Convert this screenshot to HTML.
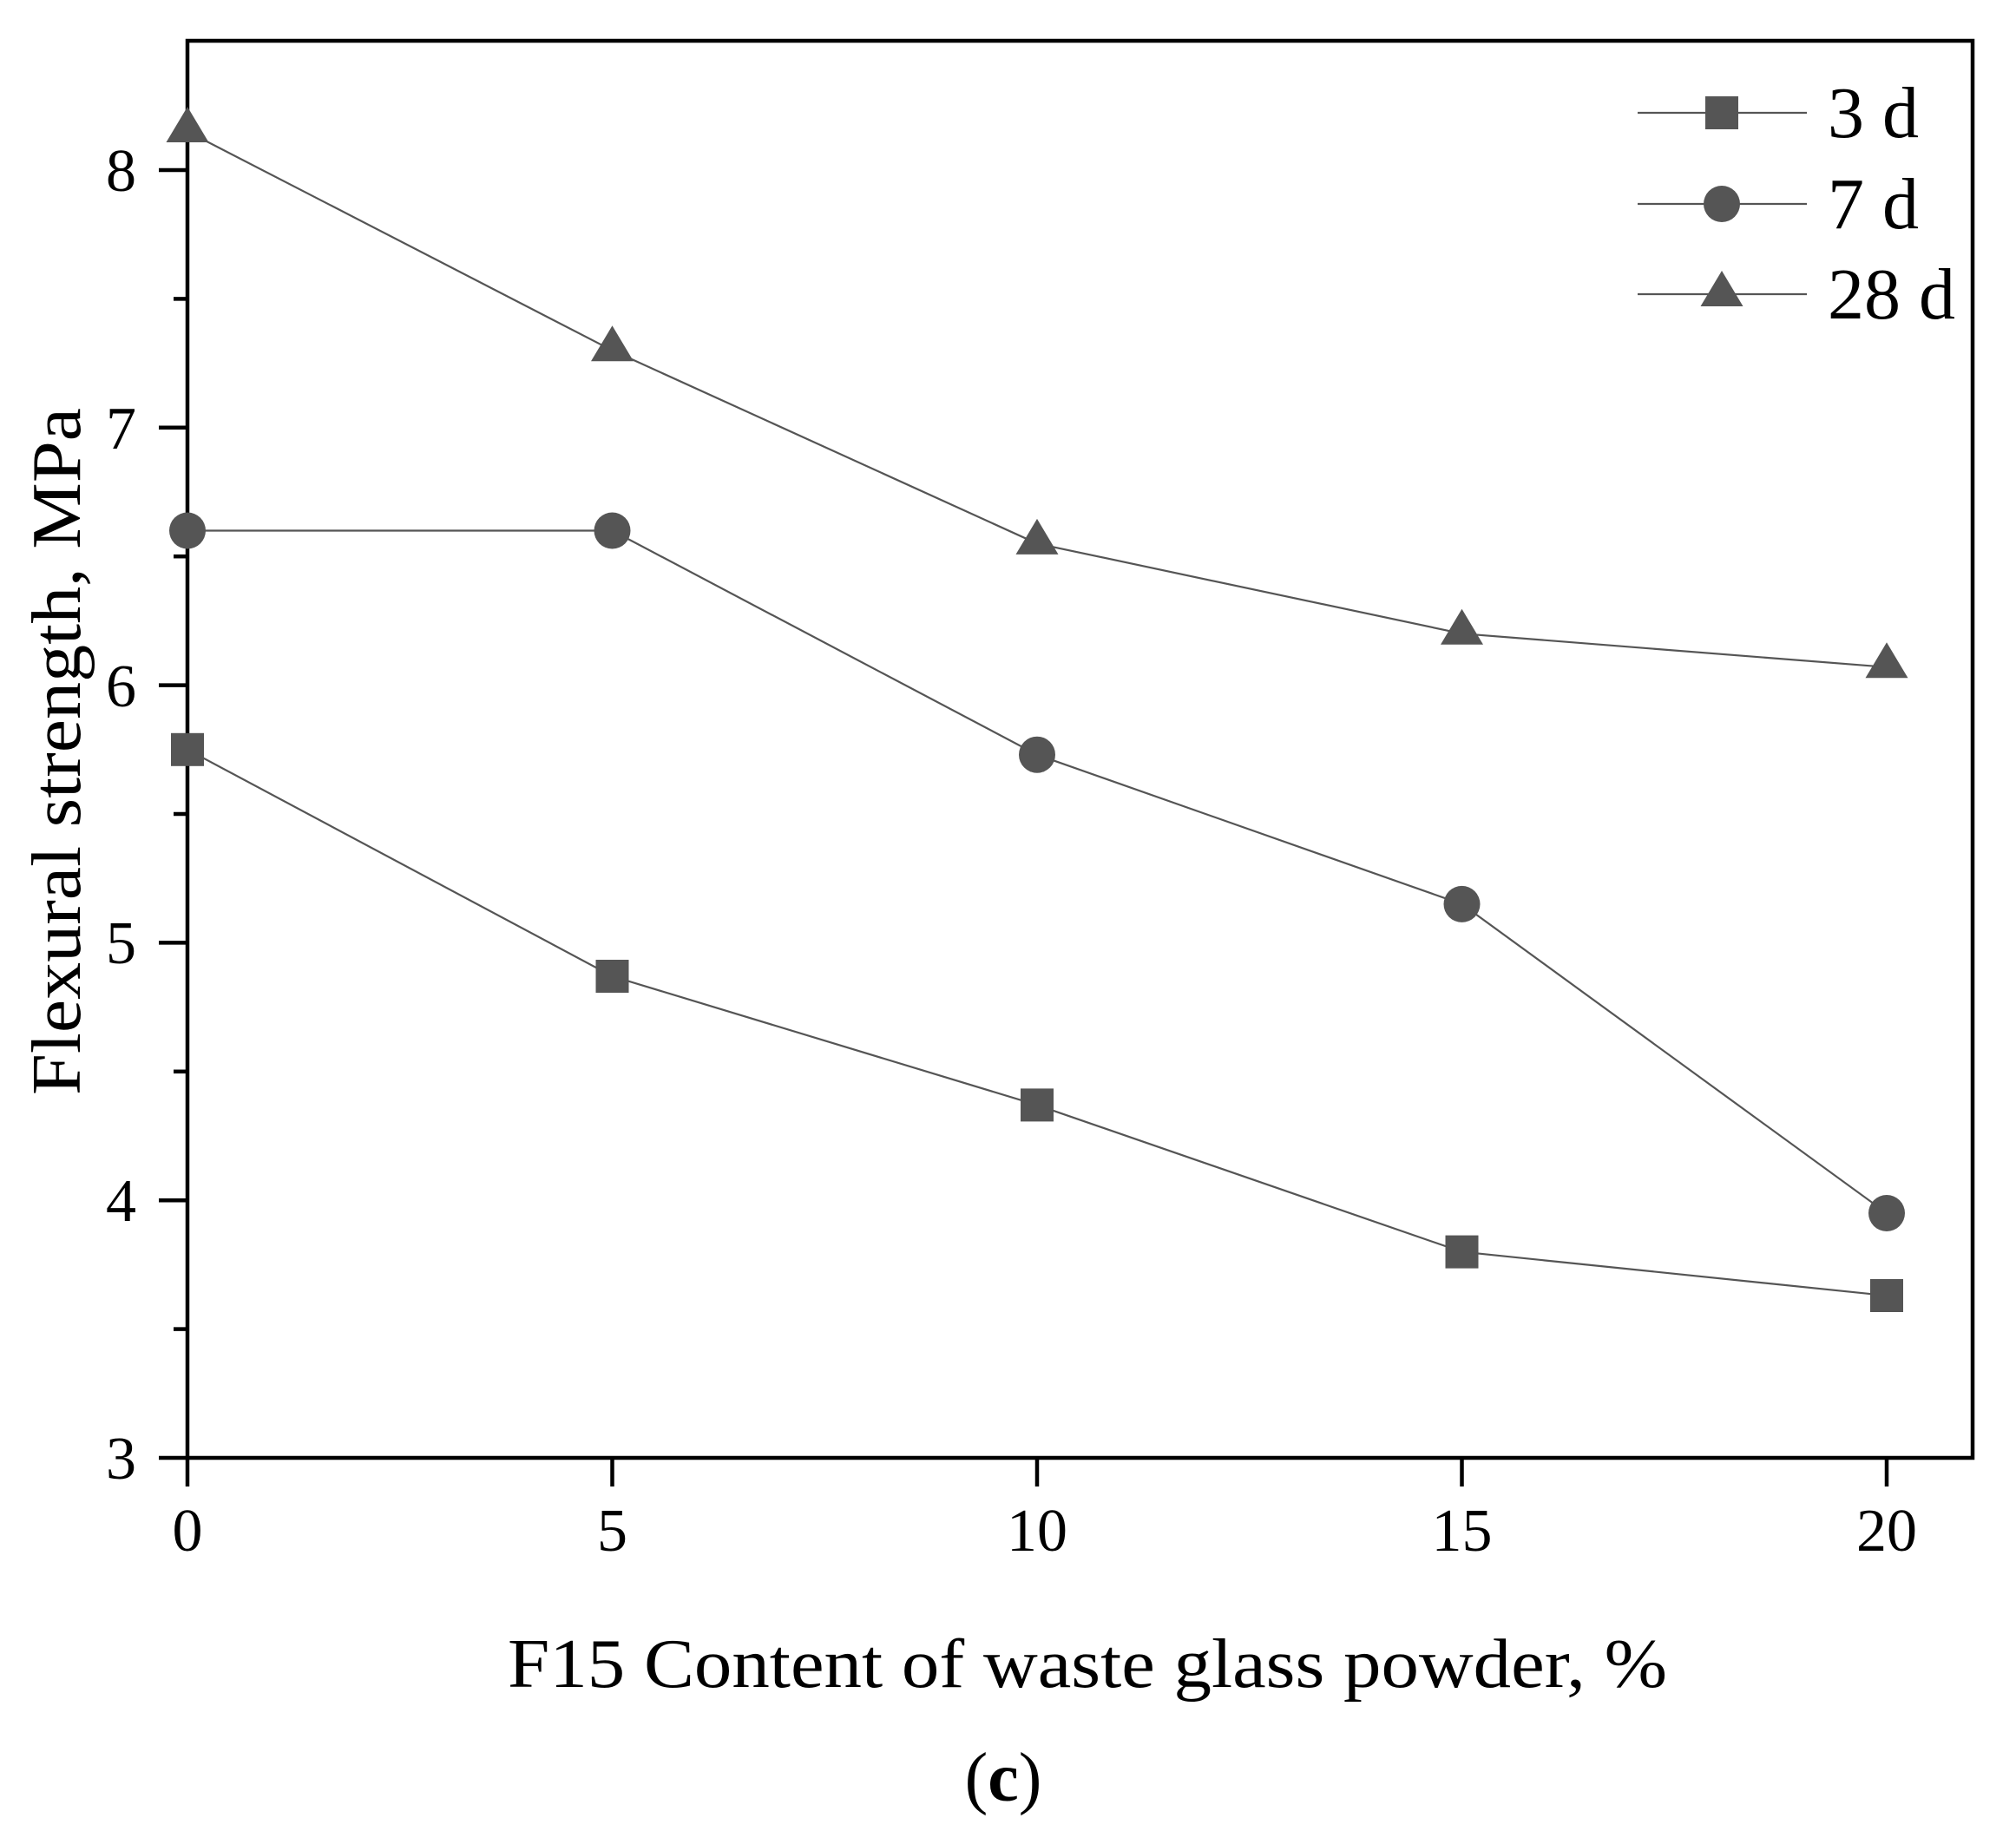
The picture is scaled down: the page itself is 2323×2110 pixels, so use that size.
<!DOCTYPE html>
<html><head><style>html,body{margin:0;padding:0;background:#fff}</style></head>
<body>
<svg width="2323" height="2105" viewBox="0 0 2323 2105" xmlns="http://www.w3.org/2000/svg" font-family="Liberation Serif, serif">
<rect width="2323" height="2105" fill="#fff"/>
<g stroke="#000" stroke-width="4.5" fill="none">
<rect x="216" y="47" width="2057" height="1633"/>
<line x1="183" y1="1680" x2="216" y2="1680"/>
<line x1="183" y1="1383.2" x2="216" y2="1383.2"/>
<line x1="183" y1="1086.4" x2="216" y2="1086.4"/>
<line x1="183" y1="789.6" x2="216" y2="789.6"/>
<line x1="183" y1="492.8" x2="216" y2="492.8"/>
<line x1="183" y1="196" x2="216" y2="196"/>
<line x1="200" y1="1531.6" x2="216" y2="1531.6"/>
<line x1="200" y1="1234.8" x2="216" y2="1234.8"/>
<line x1="200" y1="938" x2="216" y2="938"/>
<line x1="200" y1="641.2" x2="216" y2="641.2"/>
<line x1="200" y1="344.4" x2="216" y2="344.4"/>
<line x1="216" y1="1680" x2="216" y2="1713"/>
<line x1="705.5" y1="1680" x2="705.5" y2="1713"/>
<line x1="1195" y1="1680" x2="1195" y2="1713"/>
<line x1="1684.5" y1="1680" x2="1684.5" y2="1713"/>
<line x1="2174" y1="1680" x2="2174" y2="1713"/>
</g>
<g font-size="70" text-anchor="end" fill="#000">
<text x="157" y="1704">3</text>
<text x="157" y="1407">4</text>
<text x="157" y="1110">5</text>
<text x="157" y="814">6</text>
<text x="157" y="517">7</text>
<text x="157" y="220">8</text>
</g>
<g font-size="70" text-anchor="middle" fill="#000">
<text x="216" y="1787">0</text>
<text x="705.5" y="1787">5</text>
<text x="1195" y="1787">10</text>
<text x="1684.5" y="1787">15</text>
<text x="2174" y="1787">20</text>
</g>
<text x="585" y="1944" font-size="80" textLength="1336" lengthAdjust="spacingAndGlyphs">F15 Content of waste glass powder, %</text>
<text x="1156" y="2075" font-size="80" text-anchor="middle">(<tspan font-weight="bold">c</tspan>)</text>
<text transform="translate(92,866) rotate(-90)" font-size="80" text-anchor="middle" textLength="792" lengthAdjust="spacingAndGlyphs">Flexural strength, MPa</text>
<g stroke="#555" stroke-width="2.2" fill="none">
<polyline points="216,863.8 705.5,1125 1195,1273.4 1684.5,1442.6 2174,1493"/>
<polyline points="216,611.5 705.5,611.5 1195,869.7 1684.5,1041.9 2174,1398"/>
<polyline points="216,151.5 705.5,403.8 1195,626.4 1684.5,730.2 2174,768.8"/>
<line x1="1887" y1="130" x2="2082" y2="130"/>
<line x1="1887" y1="235" x2="2082" y2="235"/>
<line x1="1887" y1="339" x2="2082" y2="339"/>
</g>
<g fill="#555">
<rect x="197" y="844.8" width="38" height="38"/>
<rect x="686.5" y="1106" width="38" height="38"/>
<rect x="1176" y="1254.4" width="38" height="38"/>
<rect x="1665.5" y="1423.6" width="38" height="38"/>
<rect x="2155" y="1474" width="38" height="38"/>
<circle cx="216" cy="611.5" r="21"/>
<circle cx="705.5" cy="611.5" r="21"/>
<circle cx="1195" cy="869.7" r="21"/>
<circle cx="1684.5" cy="1041.9" r="21"/>
<circle cx="2174" cy="1398" r="21"/>
<polygon points="216,123 191.5,164 240.5,164"/>
<polygon points="705.5,375.3 681,416.3 730,416.3"/>
<polygon points="1195,597.9 1170.5,638.9 1219.5,638.9"/>
<polygon points="1684.5,701.7 1660,742.7 1709,742.7"/>
<polygon points="2174,740.3 2149.5,781.3 2198.5,781.3"/>
<rect x="1965" y="111" width="38" height="38"/>
<circle cx="1984" cy="235" r="21"/>
<polygon points="1984,312 1959.5,353 2008.5,353"/>
</g>
<g font-size="84" fill="#000">
<text x="2106" y="158">3 d</text>
<text x="2106" y="263">7 d</text>
<text x="2106" y="367">28 d</text>
</g>
</svg>
</body></html>
